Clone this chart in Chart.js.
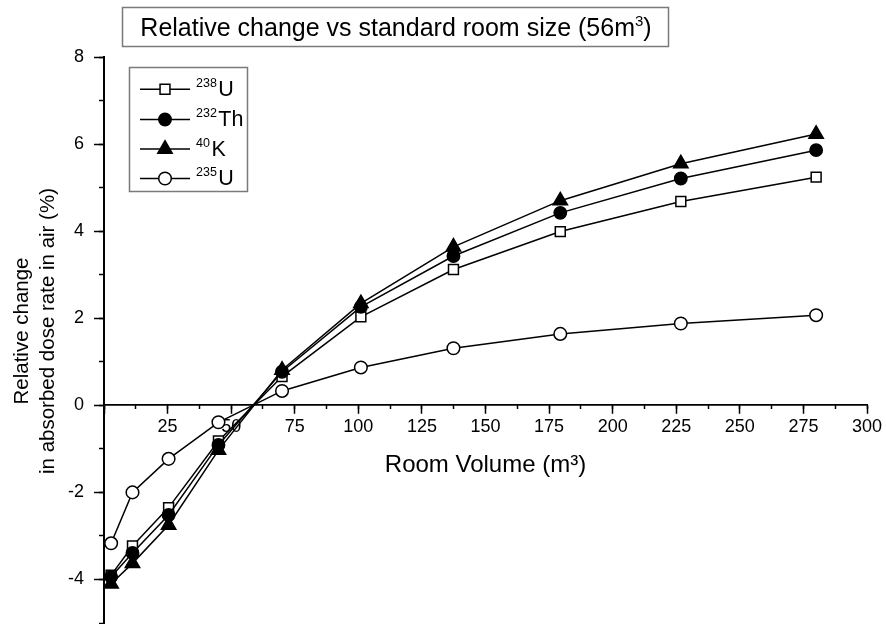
<!DOCTYPE html>
<html><head><meta charset="utf-8">
<script src="https://cdn.jsdelivr.net/npm/chart.js@4.4.1/dist/chart.umd.min.js"></script>
<style>html,body{margin:0;padding:0;background:#fff}#wrap{width:886px;height:624px}</style>
</head><body><div id="wrap"><canvas id="c" width="886" height="624"></canvas></div>
<script>
// ---- data ----
const roomVolume = [2.8, 11.2, 25.4, 45, 70, 101, 137.4, 179.4, 226.8, 280];
const u238  = [-3.90, -3.23, -2.35, -0.82, 0.66, 2.03, 3.12, 3.99, 4.68, 5.24];
const th232 = [-3.94, -3.39, -2.52, -0.91, 0.77, 2.26, 3.43, 4.42, 5.21, 5.86];
const k40   = [-4.10, -3.63, -2.75, -1.03, 0.81, 2.34, 3.64, 4.70, 5.55, 6.23];
const u235  = [-3.17, -2.00, -1.23, -0.39, 0.33, 0.87, 1.31, 1.64, 1.88, 2.07];
const isotopeMass   = ['238', '232', '40', '235'];
const isotopeSymbol = ['U', 'Th', 'K', 'U'];
const xTickLabels = [25, 50, 75, 100, 125, 150, 175, 200, 225, 250, 275, 300];
const yTickLabels = [-4, -2, 0, 2, 4, 6, 8];
const chartTitleMain = 'Relative change vs standard room size (56m';
const chartTitleSup = '3';
const chartTitleEnd = ')';
const xTitle = 'Room Volume (m\u00B3)';
const yTitle = ['Relative change', 'in absorbed dose rate in air (%)'];

const FONT = "'Liberation Sans', Arial, Helvetica, sans-serif";
const seriesValues = [u238, th232, k40, u235];
const styles = [
  {pointStyle: 'rect', radius: 7, fill: '#ffffff'},
  {pointStyle: 'circle', radius: 6.2, fill: '#000000'},
  {pointStyle: 'triangle', radius: 8.3, fill: '#000000'},
  {pointStyle: 'circle', radius: 6.3, fill: '#ffffff'}
];

const datasets = seriesValues.map((vals, i) => ({
  label: isotopeMass[i] + isotopeSymbol[i],
  data: vals.map((v, k) => ({x: roomVolume[k], y: v})),
  borderColor: '#000',
  borderWidth: 1.5,
  backgroundColor: styles[i].fill,
  pointStyle: styles[i].pointStyle,
  pointRadius: styles[i].radius,
  pointHoverRadius: styles[i].radius,
  pointBackgroundColor: styles[i].fill,
  pointBorderColor: '#000',
  pointBorderWidth: 1.5,
  tension: 0,
  fill: false,
  clip: false,
  order: [2, 1, 0, 3][i]
}));

const decorPlugin = {
  id: 'decor',
  afterDraw(chart) {
    const ctx = chart.ctx;
    ctx.save();
    // title box
    ctx.strokeStyle = '#7a7a7a';
    ctx.lineWidth = 1.5;
    ctx.strokeRect(122.5, 7.5, 546, 39);
    ctx.fillStyle = '#000';
    ctx.textBaseline = 'alphabetic';
    ctx.textAlign = 'left';
    const mainFont = '25px ' + FONT, supFont = '15px ' + FONT;
    ctx.font = mainFont;
    const w1 = ctx.measureText(chartTitleMain).width;
    const w3 = ctx.measureText(chartTitleEnd).width;
    ctx.font = supFont;
    const w2 = ctx.measureText(chartTitleSup).width;
    let tx = 396 - (w1 + w2 + w3) / 2;
    const base = 36;
    ctx.font = mainFont;
    ctx.fillText(chartTitleMain, tx, base);
    tx += w1;
    ctx.font = supFont;
    ctx.fillText(chartTitleSup, tx, base - 10);
    tx += w2;
    ctx.font = mainFont;
    ctx.fillText(chartTitleEnd, tx, base);

    // y axis title (two lines, rotated)
    ctx.save();
    ctx.translate(0, 331);
    ctx.rotate(-Math.PI / 2);
    ctx.font = '20.5px ' + FONT;
    ctx.textAlign = 'center';
    ctx.textBaseline = 'middle';
    ctx.fillStyle = '#000';
    ctx.fillText(yTitle[0], 0, 22);
    ctx.fillText(yTitle[1], 0, 48);
    ctx.restore();

    // legend box
    ctx.strokeStyle = '#7a7a7a';
    ctx.lineWidth = 1.5;
    ctx.strokeRect(129.5, 67.5, 118, 124);
    const rowY = [89.3, 119.5, 149, 178.5];
    chart.data.datasets.forEach((ds, i) => {
      const y = rowY[i];
      ctx.strokeStyle = '#000';
      ctx.lineWidth = 1.5;
      ctx.beginPath();
      ctx.moveTo(140, y);
      ctx.lineTo(190, y);
      ctx.stroke();
      ctx.fillStyle = styles[i].fill;
      ctx.strokeStyle = '#000';
      ctx.lineWidth = 1.5;
      Chart.helpers.drawPoint(ctx, {pointStyle: styles[i].pointStyle, radius: styles[i].radius, rotation: 0, borderWidth: 1.5}, 165, y);
      ctx.fillStyle = '#000';
      ctx.textAlign = 'left';
      ctx.textBaseline = 'alphabetic';
      ctx.font = '12.5px ' + FONT;
      ctx.fillText(isotopeMass[i], 196, y - 2.5);
      const mw = ctx.measureText(isotopeMass[i]).width;
      ctx.font = '21.5px ' + FONT;
      ctx.fillText(isotopeSymbol[i], 196 + mw + 1.5, y + 6.8);
    });
    ctx.restore();
  }
};

const noPad = s => { s.paddingTop = 0; s.paddingBottom = 0; };

new Chart(document.getElementById('c'), {
  type: 'line',
  data: {datasets},
  plugins: [decorPlugin],
  options: {
    responsive: false,
    devicePixelRatio: 1,
    animation: false,
    events: [],
    layout: {autoPadding: false, padding: {left: 0, right: 19, top: 57, bottom: 1}},
    plugins: {legend: {display: false}, title: {display: false}, tooltip: {enabled: false}},
    scales: {
      x: {
        type: 'linear', position: {y: 0}, min: 0, max: 300,
        ticks: {stepSize: 25, color: '#000', font: {family: FONT, size: 18}, padding: 3, maxRotation: 0, autoSkip: false,
          callback: v => xTickLabels.includes(v) ? String(v) : ''},
        grid: {drawOnChartArea: false, tickLength: 8, tickColor: '#000', tickWidth: 1.5},
        border: {color: '#000', width: 1.8},
        title: {display: true, text: xTitle, color: '#000', font: {family: FONT, size: 24}, padding: {top: 10, bottom: 0}}
      },
      x2: {
        type: 'linear', axis: 'x', position: {y: 0}, min: 0, max: 300,
        ticks: {stepSize: 12.5, display: false, autoSkip: false},
        grid: {drawOnChartArea: false, tickLength: 4, tickColor: '#000', tickWidth: 1.5},
        border: {display: false}
      },
      y: {
        type: 'linear', position: 'left', min: -5, max: 8,
        ticks: {stepSize: 2, includeBounds: false, color: '#000', font: {family: FONT, size: 18}, padding: 10,
          callback: v => yTickLabels.includes(v) ? String(v) : ''},
        grid: {drawOnChartArea: false, tickLength: 10, tickColor: '#000', tickWidth: 1.5},
        border: {color: '#000', width: 2},
        title: {display: false},
        afterFit: s => { s.width = 104; noPad(s); }
      },
      y2: {
        type: 'linear', axis: 'y', position: {x: 0}, min: -5, max: 8,
        ticks: {stepSize: 1, display: false},
        grid: {drawOnChartArea: false, tickLength: 5, tickColor: '#000', tickWidth: 1.5},
        border: {display: false},
        afterFit: noPad
      }
    }
  }
});
</script>
</body></html>
